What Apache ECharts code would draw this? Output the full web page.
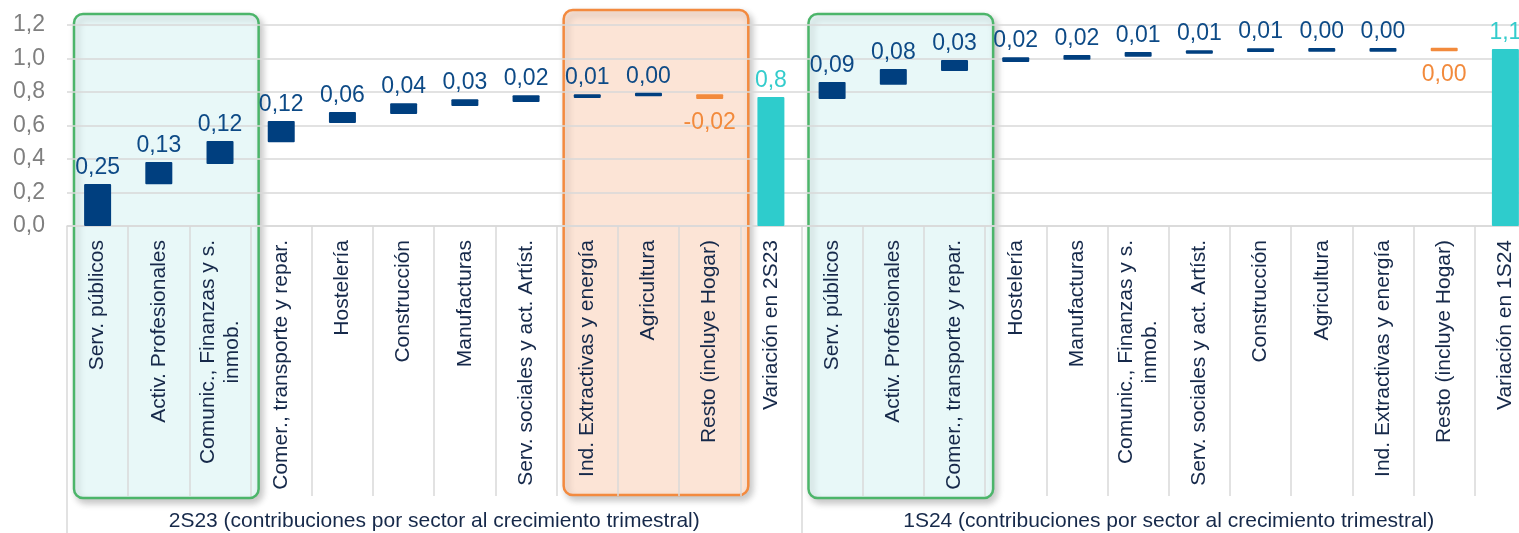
<!DOCTYPE html>
<html>
<head>
<meta charset="utf-8">
<script src="https://cdn.jsdelivr.net/npm/echarts@6/dist/echarts.min.js"></script>
<style>
  html, body { margin: 0; padding: 0; background: #fff; }
  #chart { width: 1519px; height: 533px; }
</style>
</head>
<body>
<div id="chart"></div>
<script>
// categorias (12 por semestre)
const categories = [
  'Serv. públicos', 'Activ. Profesionales', 'Comunic., Finanzas y s.\ninmob.',
  'Comer., transporte y repar.', 'Hostelería', 'Construcción', 'Manufacturas',
  'Serv. sociales y act. Artíst.', 'Ind. Extractivas y energía', 'Agricultura',
  'Resto (incluye Hogar)', 'Variación en 2S23',
  'Serv. públicos', 'Activ. Profesionales', 'Comer., transporte y repar.',
  'Hostelería', 'Manufacturas', 'Comunic., Finanzas y s.\ninmob.',
  'Serv. sociales y act. Artíst.', 'Construcción', 'Agricultura',
  'Ind. Extractivas y energía', 'Resto (incluye Hogar)', 'Variación en 1S24'
];
const groups = [
  '2S23 (contribuciones por sector al crecimiento trimestral)',
  '1S24 (contribuciones por sector al crecimiento trimestral)'
];
// extremos de cada barra
const barLow = [
  0, 0.25, 0.37, 0.50, 0.615, 0.669, 0.716, 0.740, 0.764, 0.774, 0.758, 0,
  0.758, 0.844, 0.925, 0.979, 0.993, 1.011, 1.029, 1.039, 1.041, 1.041, 1.043, 0
];
const barHigh = [
  0.251, 0.382, 0.507, 0.627, 0.68, 0.733, 0.756, 0.780, 0.786, 0.796, 0.786, 0.770,
  0.860, 0.937, 0.991, 1.007, 1.021, 1.039, 1.049, 1.061, 1.063, 1.063, 1.064, 1.057
];
// valores rotulados
const printed = [
  0.25, 0.13, 0.12, 0.12, 0.06, 0.04, 0.03, 0.02, 0.01, 0.00, -0.02, 0.8,
  0.09, 0.08, 0.03, 0.02, 0.02, 0.01, 0.01, 0.01, 0.00, 0.00, 0.00, 1.1
];
// u = sube, d = resta, t = total
const kinds = [
  'u', 'u', 'u', 'u', 'u', 'u', 'u', 'u', 'u', 'u', 'd', 't',
  'u', 'u', 'u', 'u', 'u', 'u', 'u', 'u', 'u', 'u', 'd', 't'
];

const FONT = '"Liberation Sans", Arial, sans-serif';
const NAVY = '#003f7f';
const ORANGE = '#f28a3c';
const TEAL = '#2ecccc';
const GRID = '#d9d9d9';

const colorOf = { u: NAVY, d: ORANGE, t: TEAL };
const labelColorOf = { u: '#0d4a86', d: '#f28a3c', t: '#33cccc' };

const visible = categories.map((c, i) => {
  const k = kinds[i];
  const txt = (k === 't' ? printed[i].toFixed(1) : printed[i].toFixed(2)).replace('.', ',');
  return {
    value: +(barHigh[i] - barLow[i]).toFixed(3),
    itemStyle: { color: colorOf[k], borderRadius: 1 },
    label: {
      show: true,
      position: k === 'd' ? 'bottom' : 'top',
      distance: k === 'd' ? 12 : 5,
      color: labelColorOf[k],
      formatter: txt
    }
  };
});

const chart = echarts.init(document.getElementById('chart'));
chart.setOption({
  backgroundColor: '#fff',
  animation: false,
  textStyle: { fontFamily: FONT },
  // el area de trazado sigue mas alla del borde derecho, como en el original
  grid: { left: 67, width: 1469, top: 25, bottom: 307, containLabel: false, outerBoundsMode: 'none' },
  xAxis: [{
    type: 'category',
    data: categories,
    z: 1,
    axisLine: { lineStyle: { color: GRID, width: 1.5 } },
    axisTick: { show: true, interval: 0, length: 270, lineStyle: { color: GRID, width: 1.5 } },
    axisLabel: {
      interval: 0,
      rotate: 90,
      margin: 14,
      formatter: v => v.split('\n').map(l => '{c|' + l + '}').join('\n'),
      rich: {
        c: { align: 'center', fontSize: 21, lineHeight: 24, color: '#16294a', fontFamily: FONT }
      }
    }
  }, {
    type: 'category',
    data: groups,
    position: 'bottom',
    z: 1,
    axisLine: { show: false },
    axisTick: { show: true, interval: 0, length: 307, lineStyle: { color: GRID, width: 1.5 } },
    axisLabel: { interval: 0, margin: 285, fontSize: 21, color: '#16294a', fontFamily: FONT }
  }],
  yAxis: {
    type: 'value',
    min: 0,
    max: 1.2,
    interval: 0.2,
    z: 1,
    axisLine: { show: false },
    axisTick: { show: false },
    axisLabel: {
      margin: 22,
      fontSize: 23,
      color: '#7f7f7f',
      formatter: v => v.toFixed(1).replace('.', ',')
    },
    splitLine: { lineStyle: { color: GRID, width: 1.5 } }
  },
  series: [{
    name: 'base',
    type: 'bar',
    stack: 'w',
    barWidth: 27,
    itemStyle: { color: 'transparent' },
    data: barLow,
    z: 3
  }, {
    name: 'valor',
    type: 'bar',
    stack: 'w',
    barWidth: 27,
    label: { fontSize: 23, fontFamily: FONT },
    data: visible,
    z: 3
  }]
});

// recuadros resaltados detras de las barras
function band(i0, i1) {
  const c0 = chart.convertToPixel({ xAxisIndex: 0 }, 0);
  const c1 = chart.convertToPixel({ xAxisIndex: 0 }, 1);
  const w = c1 - c0;
  const left = chart.convertToPixel({ xAxisIndex: 0 }, i0) - w / 2;
  const right = chart.convertToPixel({ xAxisIndex: 0 }, i1) + w / 2;
  return [left, right];
}
const topY = chart.convertToPixel({ yAxisIndex: 0 }, 1.2);
function box(i0, i1, dTop, bottom, fill, stroke) {
  const [l, r] = band(i0, i1);
  return {
    type: 'rect',
    z: -10,
    shape: { x: l + 7, y: topY - dTop, width: r - l + 1, height: bottom - (topY - dTop), r: 9 },
    style: {
      fill: fill, stroke: stroke, lineWidth: 2.5,
      shadowBlur: 7, shadowOffsetX: 3, shadowOffsetY: 4, shadowColor: 'rgba(0,0,0,0.22)'
    }
  };
}
chart.setOption({
  graphic: {
    z: -10,
    elements: [
      box(0, 2, 11, 498, '#e8f8f8', '#4cb56a'),
      box(8, 10, 15, 495, '#fce4d6', '#f38a3f'),
      box(12, 14, 11, 498, '#e8f8f8', '#4cb56a')
    ]
  }
});
</script>
</body>
</html>
